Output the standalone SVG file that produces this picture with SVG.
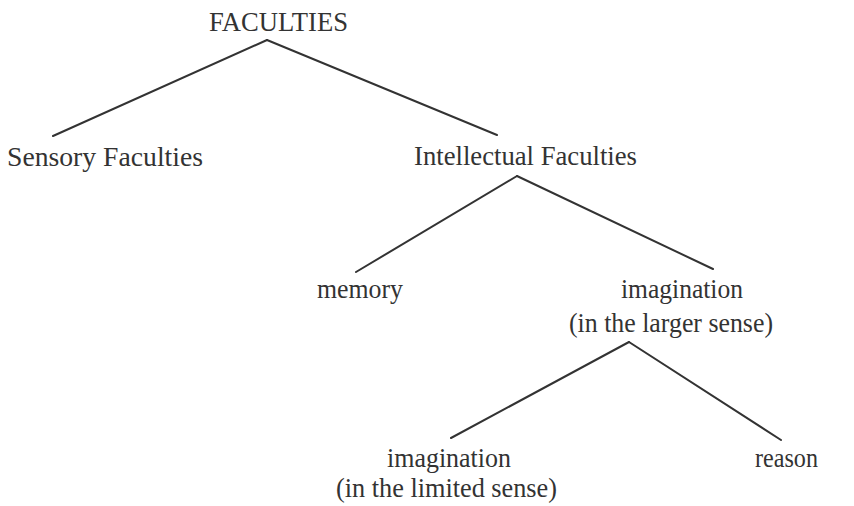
<svg xmlns="http://www.w3.org/2000/svg" width="854" height="506" viewBox="0 0 854 506">
<style>
text{font-family:"Liberation Serif","Times New Roman",serif;font-size:28px;fill:#333;}
.c line{stroke:#333;stroke-width:2;stroke-linecap:round;}
</style>
<rect width="854" height="506" fill="#fff"/>
<g class="c" id="connectors">
<line x1="267" y1="40" x2="53" y2="136"/>
<line x1="267" y1="40" x2="497" y2="135"/>
<line x1="517" y1="176" x2="356" y2="272"/>
<line x1="517" y1="176" x2="713" y2="269"/>
<line x1="629" y1="342" x2="451" y2="438"/>
<line x1="629" y1="342" x2="781" y2="440"/>
</g>
<g id="faculties"><text x="209" y="31" textLength="139" lengthAdjust="spacingAndGlyphs">FACULTIES</text></g>
<g id="sensory"><text x="7" y="166" textLength="196" lengthAdjust="spacingAndGlyphs">Sensory Faculties</text></g>
<g id="intellectual"><text x="414" y="165" textLength="223" lengthAdjust="spacingAndGlyphs">Intellectual Faculties</text></g>
<g id="memory"><text x="317" y="298" textLength="86" lengthAdjust="spacingAndGlyphs">memory</text></g>
<g id="imagination-larger">
<text x="621" y="298" textLength="122" lengthAdjust="spacingAndGlyphs">imagination</text>
<text x="569" y="332" textLength="204" lengthAdjust="spacingAndGlyphs">(in the larger sense)</text>
</g>
<g id="imagination-limited">
<text x="387" y="467" textLength="124" lengthAdjust="spacingAndGlyphs">imagination</text>
<text x="336" y="497" textLength="221" lengthAdjust="spacingAndGlyphs">(in the limited sense)</text>
</g>
<g id="reason"><text x="755" y="467" textLength="63" lengthAdjust="spacingAndGlyphs">reason</text></g>
</svg>
